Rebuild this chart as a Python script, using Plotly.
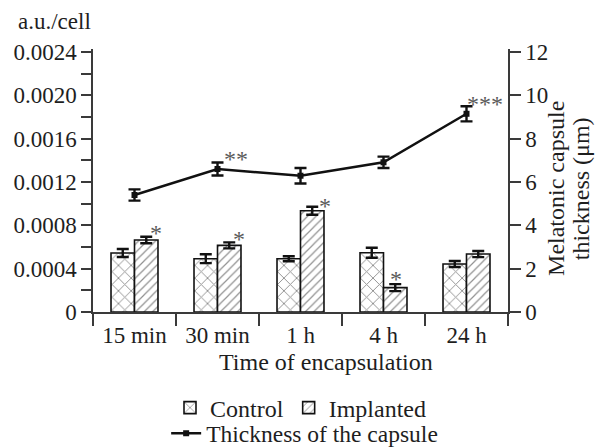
import plotly.graph_objects as go

# ---- data ----
categories = ["15 min", "30 min", "1 h", "4 h", "24 h"]
control = [0.000545, 0.000492, 0.000492, 0.000547, 0.000443]
control_err = [0.000037, 0.000041, 0.000023, 0.000046, 0.000028]
implanted = [0.000665, 0.000615, 0.000935, 0.000225, 0.000535]
implanted_err = [0.000030, 0.000028, 0.000037, 0.000032, 0.000028]
thickness = [5.40, 6.60, 6.29, 6.91, 9.15]
thickness_err = [0.26, 0.30, 0.36, 0.26, 0.35]
implanted_marks = ["*", "*", "*", "*", ""]
thickness_marks = ["", "**", "", "", "***"]

left_tickvals = [0, 0.0004, 0.0008, 0.0012, 0.0016, 0.0020, 0.0024]
left_ticktext = ["0", "0.0004", "0.0008", "0.0012", "0.0016", "0.0020", "0.0024"]
right_tickvals = [0, 2, 4, 6, 8, 10, 12]

FONT = "Liberation Serif"
TXT = "#1e1e1e"
AX = "#3a3a3a"
STAR = "#5a5a5a"

fig = go.Figure()

fig.add_trace(go.Bar(
    x=categories, y=control, name="Control",
    marker=dict(color="white", line=dict(color="#111111", width=1.6),
                pattern=dict(shape="x", size=9, solidity=0.2, fgcolor="#222222", bgcolor="white")),
    error_y=dict(type="data", array=control_err, color="#111111", thickness=2.4, width=6),
    legend="legend",
))
fig.add_trace(go.Bar(
    x=categories, y=implanted, name="Implanted",
    marker=dict(color="white", line=dict(color="#111111", width=1.6),
                pattern=dict(shape="/", size=6, solidity=0.2, fgcolor="#222222", bgcolor="white")),
    error_y=dict(type="data", array=implanted_err, color="#111111", thickness=2.4, width=6),
    legend="legend",
))
fig.add_trace(go.Scatter(
    x=categories, y=thickness, name="Thickness of the capsule", yaxis="y2",
    mode="lines+markers",
    line=dict(color="#111111", width=2.5),
    marker=dict(symbol="square", size=6, color="#111111"),
    error_y=dict(type="data", array=thickness_err, color="#111111", thickness=2.4, width=6),
    legend="legend2",
))

# significance marks
imp_shift = {0: (21, 6), 1: (21, 5), 2: (24, 3), 3: (12, 7)}
for i, m in enumerate(implanted_marks):
    if m:
        dx, dy = imp_shift[i]
        fig.add_annotation(x=categories[i], y=implanted[i] + implanted_err[i], xref="x", yref="y",
                           text=m, showarrow=False, xshift=dx, yshift=dy - 2,
                           yanchor="middle", font=dict(family=FONT, size=24, color=STAR))
for i, m in enumerate(thickness_marks):
    if m:
        fig.add_annotation(x=categories[i], y=thickness[i], xref="x", yref="y2",
                           text=m, showarrow=False, xshift=18, yshift=10,
                           yanchor="middle", font=dict(family=FONT, size=24, color=STAR))

# axis titles / units as text
fig.add_annotation(x=0, y=1.105, xref="paper", yref="paper", xanchor="right", yanchor="middle",
                   text="a.u./cell", showarrow=False, font=dict(family=FONT, size=23, color=TXT))
fig.add_annotation(x=0.562, y=-0.19, xref="paper", yref="paper", xanchor="center", yanchor="middle",
                   text="Time of encapsulation", showarrow=False,
                   font=dict(family=FONT, size=24, color=TXT))
fig.add_annotation(x=1.117, y=0.47, xref="paper", yref="paper", xanchor="center", yanchor="middle",
                   textangle=-90, text="Melatonic capsule", showarrow=False,
                   font=dict(family=FONT, size=24, color=TXT))
fig.add_annotation(x=1.178, y=0.47, xref="paper", yref="paper", xanchor="center", yanchor="middle",
                   textangle=-90, text="thickness (μm)", showarrow=False,
                   font=dict(family=FONT, size=24, color=TXT))

fig.update_layout(
    width=595, height=448,
    margin=dict(l=93, r=87, t=49, b=136, autoexpand=False),
    paper_bgcolor="white", plot_bgcolor="white",
    font=dict(family=FONT, size=23, color=TXT),
    barmode="group", bargap=0.434, bargroupgap=0,
    showlegend=True,
    xaxis=dict(
        showline=True, linecolor=AX, linewidth=1.5, mirror=False, automargin=False,
        ticks="outside", tickson="boundaries", ticklen=12, tickcolor=AX, tickwidth=1.5,
        tickfont=dict(family=FONT, size=23, color=TXT), ticklabelstandoff=2,
        showgrid=False,
    ),
    yaxis=dict(
        range=[0, 0.002428], showline=True, linecolor=AX, linewidth=1.5, automargin=False,
        tickmode="array", tickvals=left_tickvals, ticktext=left_ticktext,
        ticks="outside", ticklen=10, tickcolor=AX, tickwidth=1.5,
        tickfont=dict(family=FONT, size=23, color=TXT),
        minor=dict(tickmode="linear", tick0=0.0002, dtick=0.0004, ticks="outside",
                   ticklen=10, tickcolor=AX, tickwidth=1.5, showgrid=False),
        showgrid=False, zeroline=False,
    ),
    yaxis2=dict(
        range=[0, 12.14], overlaying="y", side="right", automargin=False,
        showline=True, linecolor=AX, linewidth=1.5,
        tickmode="array", tickvals=right_tickvals,
        ticks="outside", ticklen=11, tickcolor=AX, tickwidth=1.5,
        tickfont=dict(family=FONT, size=23, color=TXT),
        showgrid=False, zeroline=False,
    ),
    legend=dict(orientation="h", x=0.5, xanchor="center", y=-0.365, yanchor="middle",
                font=dict(family=FONT, size=24, color=TXT), bgcolor="rgba(0,0,0,0)",
                itemwidth=30, tracegroupgap=0),
    legend2=dict(orientation="h", x=0.51, xanchor="center", y=-0.462, yanchor="middle",
                 font=dict(family=FONT, size=23.5, color=TXT), bgcolor="rgba(0,0,0,0)",
                 itemwidth=30),
)

fig.write_html("out.html", config={"displayModeBar": False},
               post_script="document.body.style.margin='0';document.body.style.padding='0';")
